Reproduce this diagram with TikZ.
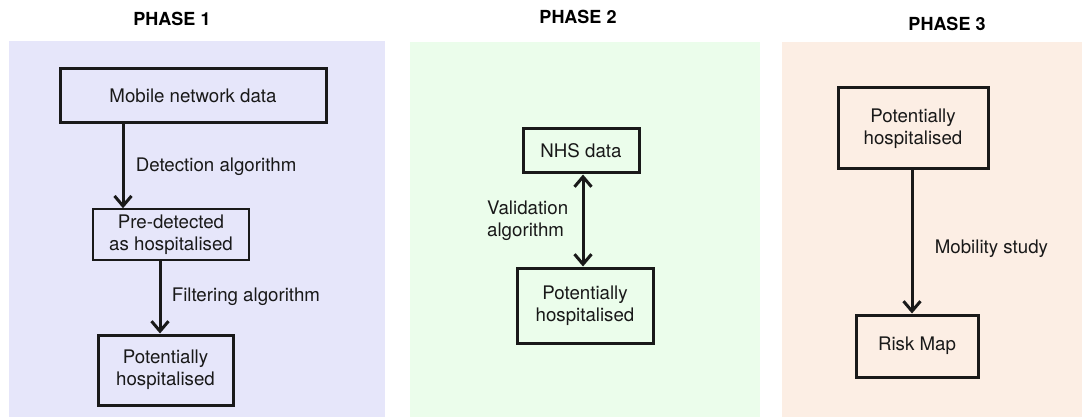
\documentclass[tikz,border=0pt]{standalone}
\usepackage{fontspec}
\setmainfont{TeX Gyre Heros}
\usetikzlibrary{arrows.meta,positioning}
\definecolor{phaseone}{RGB}{230,230,250}
\definecolor{phasetwo}{RGB}{235,253,235}
\definecolor{phasethree}{RGB}{252,238,228}
\definecolor{ink}{RGB}{25,25,25}
\begin{document}
\begin{tikzpicture}[x=1pt,y=-1pt,
		box/.style={shape=rectangle,draw=ink,line width=3pt,align=center,text=ink,
			font=\fontsize{18.7}{22}\selectfont,inner sep=0pt},
		thinbox/.style={box,line width=1.5pt},
		arr/.style={draw=ink,line width=3pt,-{Straight Barb[length=10pt,width=17pt]}},
		lbl/.style={text=ink,font=\fontsize{18.7}{22}\selectfont,align=left},
		title/.style={text=black,font=\fontsize{18}{20}\selectfont\bfseries}]
		\useasboundingbox (0,0) rectangle (1082,417);
		% panels
		\fill[phaseone] (9,41) rectangle (385,417);
		\fill[phasetwo] (410,42) rectangle (760,417);
		\fill[phasethree] (782,42) rectangle (1082,417);
		\node[title] (t1) at (172,19) {PHASE 1};
		\node[title] (t2) at (578,17) {PHASE 2};
		\node[title] (t3) at (947,24) {PHASE 3};

		% phase 1
		\node[box,minimum width=266pt,minimum height=54pt] (mob) at (193,96) {Mobile network data};
		\node[thinbox,minimum width=156pt,minimum height=51pt] (pre) at (171,234.5) {Pre-detected\\as hospitalised};
		\node[box,minimum width=135pt,minimum height=70pt] (pot1) at (165.5,370) {Potentially\\hospitalised};
		\coordinate (a1) at (123,0);
		\coordinate (a2) at (160,0);
		\draw[arr] (mob.south -| a1) -- node[lbl,right=8pt] {Detection algorithm} (pre.north -| a1);
		\draw[arr] (pre.south -| a2) -- node[lbl,right=7pt] {Filtering algorithm} (pot1.north -| a2);

		% phase 2
		\node[box,minimum width=116pt,minimum height=44pt] (nhs) at (581,151) {NHS data};
		\node[box,minimum width=136pt,minimum height=75pt] (pot2) at (585,305.5) {Potentially\\hospitalised};
		\coordinate (a3) at (583,0);
		\draw[arr,{Straight Barb[length=10pt,width=17pt]}-{Straight Barb[length=10pt,width=17pt]}]
			(nhs.south -| a3) -- node[lbl,left=10pt] {Validation\\algorithm} (pot2.north -| a3);

		% phase 3
		\node[box,minimum width=150pt,minimum height=81pt] (pot3) at (913,128.5) {Potentially\\hospitalised};
		\node[box,minimum width=122pt,minimum height=62pt] (risk) at (917,346) {Risk Map};
		\coordinate (a4) at (912,0);
		\draw[arr] (pot3.south -| a4) -- node[lbl,right=18pt,pos=0.55] {Mobility study} (risk.north -| a4);
\end{tikzpicture}
\end{document}
